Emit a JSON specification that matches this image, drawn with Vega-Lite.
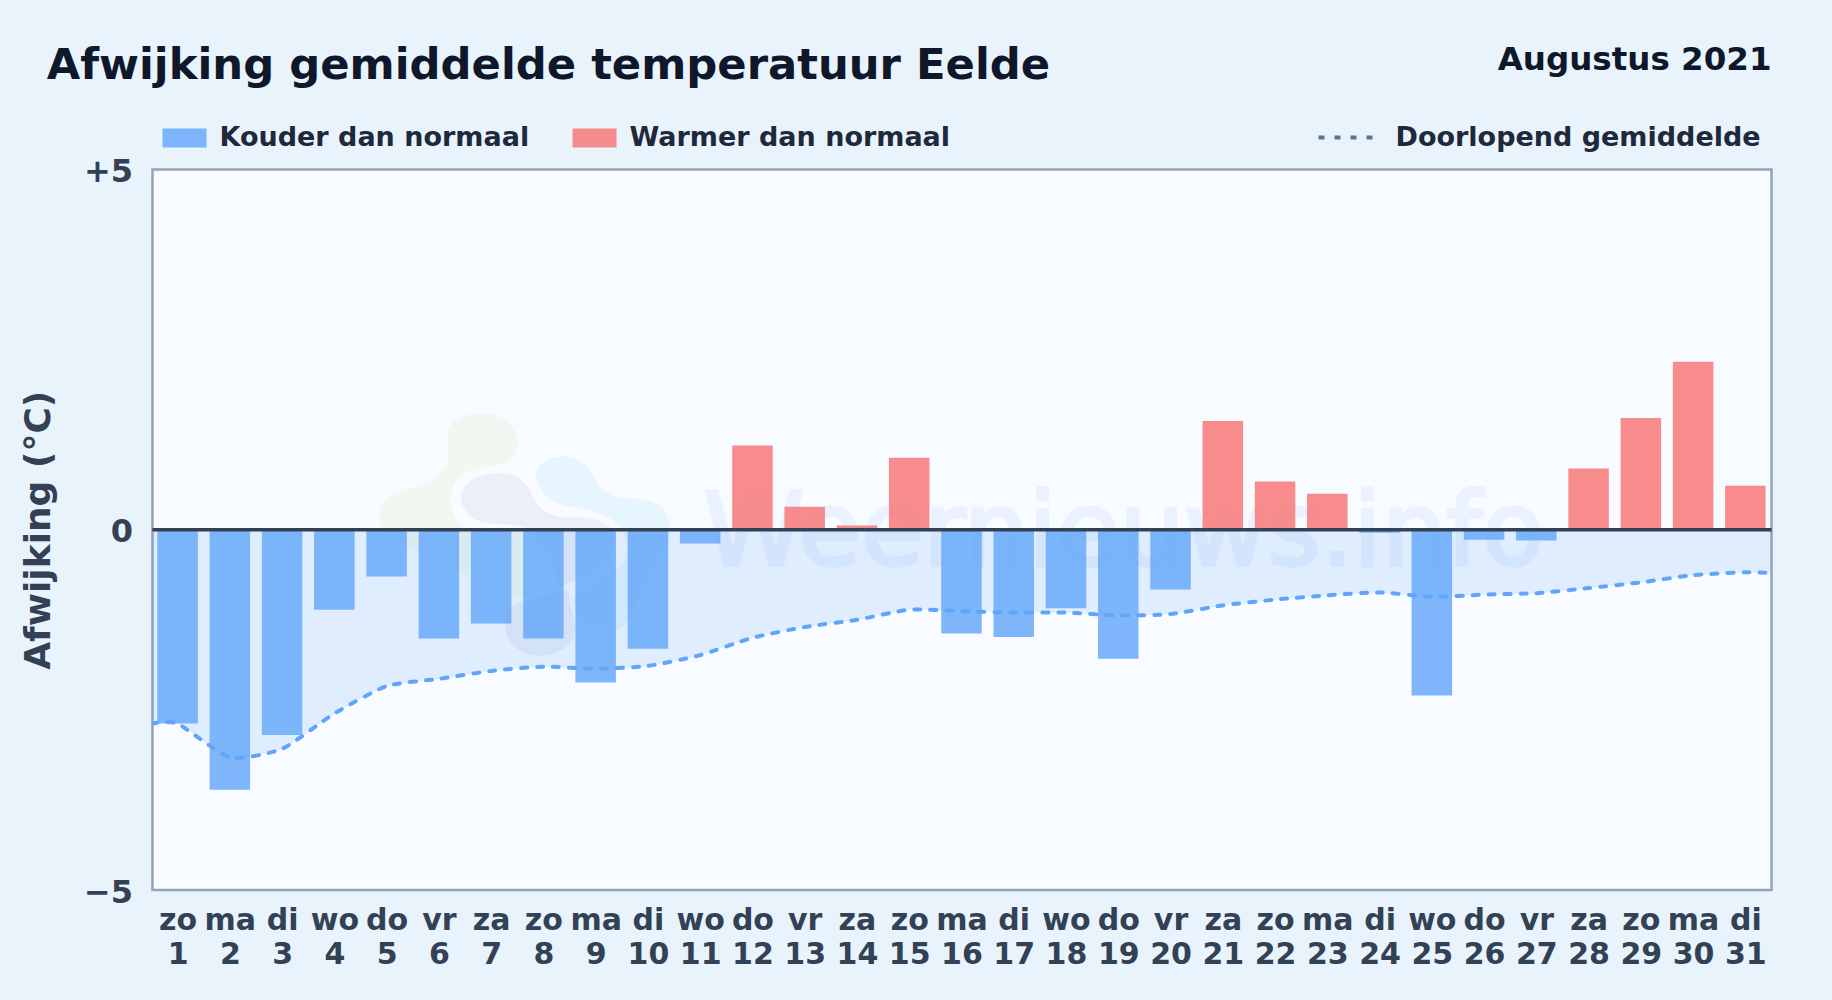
{
"$schema":"https://vega.github.io/schema/vega-lite/v6.json",
"width":1619,"height":720.5,
"autosize":"none",
"padding":{"left":152.5,"top":169.5,"right":60.5,"bottom":110},
"background":"#e8f3fc",
"config":{"view":{"fill":"#f8fbff","stroke":"#94a3b8","strokeWidth":2.5},"font":"DejaVu Sans"},
"datasets":{
"dagen":[
{"dag":1,"afwijking":-2.69,"soort":"Kouder dan normaal"},{"dag":2,"afwijking":-3.61,"soort":"Kouder dan normaal"},{"dag":3,"afwijking":-2.85,"soort":"Kouder dan normaal"},{"dag":4,"afwijking":-1.11,"soort":"Kouder dan normaal"},{"dag":5,"afwijking":-0.65,"soort":"Kouder dan normaal"},{"dag":6,"afwijking":-1.51,"soort":"Kouder dan normaal"},{"dag":7,"afwijking":-1.3,"soort":"Kouder dan normaal"},{"dag":8,"afwijking":-1.51,"soort":"Kouder dan normaal"},{"dag":9,"afwijking":-2.12,"soort":"Kouder dan normaal"},{"dag":10,"afwijking":-1.65,"soort":"Kouder dan normaal"},{"dag":11,"afwijking":-0.19,"soort":"Kouder dan normaal"},{"dag":12,"afwijking":1.17,"soort":"Warmer dan normaal"},{"dag":13,"afwijking":0.32,"soort":"Warmer dan normaal"},{"dag":14,"afwijking":0.06,"soort":"Warmer dan normaal"},{"dag":15,"afwijking":1.0,"soort":"Warmer dan normaal"},{"dag":16,"afwijking":-1.44,"soort":"Kouder dan normaal"},{"dag":17,"afwijking":-1.49,"soort":"Kouder dan normaal"},{"dag":18,"afwijking":-1.09,"soort":"Kouder dan normaal"},{"dag":19,"afwijking":-1.79,"soort":"Kouder dan normaal"},{"dag":20,"afwijking":-0.83,"soort":"Kouder dan normaal"},{"dag":21,"afwijking":1.51,"soort":"Warmer dan normaal"},{"dag":22,"afwijking":0.67,"soort":"Warmer dan normaal"},{"dag":23,"afwijking":0.5,"soort":"Warmer dan normaal"},{"dag":24,"afwijking":-0.04,"soort":"Kouder dan normaal"},{"dag":25,"afwijking":-2.3,"soort":"Kouder dan normaal"},{"dag":26,"afwijking":-0.14,"soort":"Kouder dan normaal"},{"dag":27,"afwijking":-0.15,"soort":"Kouder dan normaal"},{"dag":28,"afwijking":0.85,"soort":"Warmer dan normaal"},{"dag":29,"afwijking":1.55,"soort":"Warmer dan normaal"},{"dag":30,"afwijking":2.33,"soort":"Warmer dan normaal"},{"dag":31,"afwijking":0.61,"soort":"Warmer dan normaal"}],
"gemiddelde":[
{"dag":0.5,"gem":-2.69,"reeks":"Doorlopend gemiddelde"},{"dag":1,"gem":-2.69,"reeks":"Doorlopend gemiddelde"},{"dag":2,"gem":-3.16,"reeks":"Doorlopend gemiddelde"},{"dag":3,"gem":-3.04,"reeks":"Doorlopend gemiddelde"},{"dag":4,"gem":-2.55,"reeks":"Doorlopend gemiddelde"},{"dag":5,"gem":-2.17,"reeks":"Doorlopend gemiddelde"},{"dag":6,"gem":-2.07,"reeks":"Doorlopend gemiddelde"},{"dag":7,"gem":-1.96,"reeks":"Doorlopend gemiddelde"},{"dag":8,"gem":-1.9,"reeks":"Doorlopend gemiddelde"},{"dag":9,"gem":-1.93,"reeks":"Doorlopend gemiddelde"},{"dag":10,"gem":-1.89,"reeks":"Doorlopend gemiddelde"},{"dag":11,"gem":-1.74,"reeks":"Doorlopend gemiddelde"},{"dag":12,"gem":-1.5,"reeks":"Doorlopend gemiddelde"},{"dag":13,"gem":-1.35,"reeks":"Doorlopend gemiddelde"},{"dag":14,"gem":-1.25,"reeks":"Doorlopend gemiddelde"},{"dag":15,"gem":-1.11,"reeks":"Doorlopend gemiddelde"},{"dag":16,"gem":-1.13,"reeks":"Doorlopend gemiddelde"},{"dag":17,"gem":-1.15,"reeks":"Doorlopend gemiddelde"},{"dag":18,"gem":-1.15,"reeks":"Doorlopend gemiddelde"},{"dag":19,"gem":-1.19,"reeks":"Doorlopend gemiddelde"},{"dag":20,"gem":-1.17,"reeks":"Doorlopend gemiddelde"},{"dag":21,"gem":-1.05,"reeks":"Doorlopend gemiddelde"},{"dag":22,"gem":-0.97,"reeks":"Doorlopend gemiddelde"},{"dag":23,"gem":-0.91,"reeks":"Doorlopend gemiddelde"},{"dag":24,"gem":-0.87,"reeks":"Doorlopend gemiddelde"},{"dag":25,"gem":-0.93,"reeks":"Doorlopend gemiddelde"},{"dag":26,"gem":-0.9,"reeks":"Doorlopend gemiddelde"},{"dag":27,"gem":-0.88,"reeks":"Doorlopend gemiddelde"},{"dag":28,"gem":-0.81,"reeks":"Doorlopend gemiddelde"},{"dag":29,"gem":-0.73,"reeks":"Doorlopend gemiddelde"},{"dag":30,"gem":-0.63,"reeks":"Doorlopend gemiddelde"},{"dag":31,"gem":-0.59,"reeks":"Doorlopend gemiddelde"},{"dag":31.5,"gem":-0.6,"reeks":"Doorlopend gemiddelde"}],
"logo":[{"dag":7.64,"afwijking":-0.07}]
},
"layer":[
{"data":{"name":"gemiddelde"},
 "mark":{"type":"area","interpolate":"cardinal","tension":0.4,"color":"#60a5fa","opacity":0.16,"clip":true},
 "encoding":{"x":{"field":"dag","type":"quantitative","scale":{"domain":[0.52,31.5],"nice":false,"zero":false,"padding":0},"title":null,
   "axis":{"values":[1,2,3,4,5,6,7,8,9,10,11,12,13,14,15,16,17,18,19,20,21,22,23,24,25,26,27,28,29,30,31],"labelExpr":"[['zo','ma','di','wo','do','vr','za'][(datum.value-1)%7], ''+datum.value]","grid":false,"ticks":false,"domain":false,"labelFontSize":30,"labelFontWeight":"bold","labelColor":"#334155","labelPadding":15,"labelLineHeight":34.5,"labelOverlap":false,"labelBound":false,"labelFlush":false}},
  "y":{"field":"gem","type":"quantitative","scale":{"domain":[-5,5],"nice":false},"title":"Afwijking (°C)",
   "axis":{"values":[-5,0,5],"labelExpr":"datum.value>0?'+'+datum.value:(datum.value<0?'−'+abs(datum.value):'0')","grid":false,"ticks":false,"domain":false,"labelFontSize":32,"labelFontWeight":"bold","labelColor":"#334155","labelPadding":20,"labelOffset":2,"titleFontSize":36,"titleFontWeight":"bold","titleColor":"#334155","titlePadding":25.5}},
  "y2":{"datum":0}}},
{"data":{"name":"logo"},"mark":{"type":"point","filled":true,"fill":"#84cc16","opacity":0.06,"size":102400,"shape":"M-0.479,-0.635 C-0.479,-0.718 -0.365,-0.76 -0.26,-0.76 C-0.135,-0.76 -0.042,-0.677 -0.042,-0.573 C-0.042,-0.5 -0.094,-0.448 -0.156,-0.437 C-0.302,-0.423 -0.406,-0.396 -0.448,-0.302 C-0.49,-0.198 -0.448,-0.073 -0.323,-0.01 C-0.198,-0.021 -0.052,-0.031 0.073,-0.01 C0.198,0.073 0.198,0.26 0.073,0.365 L-0.052,0.385 C-0.24,0.365 -0.51,0.135 -0.719,0.073 C-0.844,0.031 -0.917,-0.031 -0.906,-0.135 C-0.906,-0.219 -0.844,-0.26 -0.76,-0.281 C-0.635,-0.313 -0.552,-0.333 -0.5,-0.417 C-0.469,-0.469 -0.479,-0.552 -0.479,-0.635 Z"},
 "encoding":{"x":{"field":"dag","type":"quantitative"},"y":{"field":"afwijking","type":"quantitative"}}},
{"data":{"name":"logo"},"mark":{"type":"point","filled":true,"fill":"#1e3a8a","opacity":0.06,"size":102400,"shape":"M-0.396,-0.229 C-0.396,-0.323 -0.302,-0.385 -0.156,-0.385 C-0.031,-0.385 0.021,-0.313 0.052,-0.24 C0.094,-0.146 0.177,-0.104 0.302,-0.108 C0.427,-0.119 0.531,-0.083 0.563,0.01 C0.573,0.115 0.479,0.219 0.365,0.26 C0.281,0.302 0.24,0.32 0.2,0.33 C0.22,0.22 0.135,0.031 0.01,-0.042 C-0.115,-0.083 -0.24,-0.052 -0.323,-0.104 C-0.375,-0.146 -0.396,-0.188 -0.396,-0.229 Z"},
 "encoding":{"x":{"field":"dag","type":"quantitative"},"y":{"field":"afwijking","type":"quantitative"}}},
{"data":{"name":"logo"},"mark":{"type":"point","filled":true,"fill":"#38bdf8","opacity":0.09,"size":102400,"shape":"M0.073,-0.375 C0.073,-0.448 0.156,-0.49 0.25,-0.49 C0.354,-0.49 0.417,-0.406 0.458,-0.313 C0.51,-0.24 0.615,-0.219 0.719,-0.223 C0.823,-0.223 0.906,-0.146 0.91,-0.042 C0.91,0.094 0.802,0.198 0.74,0.323 C0.677,0.448 0.656,0.594 0.552,0.598 C0.406,0.594 0.302,0.51 0.302,0.406 C0.323,0.333 0.521,0.281 0.615,0.177 C0.688,0.073 0.615,-0.073 0.49,-0.125 C0.385,-0.177 0.26,-0.156 0.167,-0.219 C0.104,-0.26 0.073,-0.313 0.073,-0.375 Z"},
 "encoding":{"x":{"field":"dag","type":"quantitative"},"y":{"field":"afwijking","type":"quantitative"}}},
{"data":{"name":"logo"},"mark":{"type":"point","filled":true,"fill":"#1e3a8a","opacity":0.06,"size":102400,"shape":"M-0.121,0.573 C-0.121,0.49 -0.073,0.427 0.01,0.406 C0.135,0.385 0.219,0.354 0.277,0.344 C0.271,0.448 0.344,0.552 0.302,0.656 C0.24,0.74 0.156,0.756 0.094,0.756 C-0.031,0.756 -0.121,0.677 -0.121,0.573 Z"},
 "encoding":{"x":{"field":"dag","type":"quantitative"},"y":{"field":"afwijking","type":"quantitative"}}},
{"data":{"values":[{"tekst":"Weernieuws.info","dag":19.11,"afwijking":-0.49}]},
 "mark":{"type":"text","font":"DejaVu Sans","fontWeight":"normal","fontSize":102,"align":"center","baseline":"alphabetic","color":"#3b82f6","stroke":"#3b82f6","strokeWidth":3.5,"opacity":0.07},
 "encoding":{"x":{"field":"dag","type":"quantitative"},"y":{"field":"afwijking","type":"quantitative"},"text":{"field":"tekst"}}},
{"data":{"name":"dagen"},
 "mark":{"type":"bar","width":40.5,"opacity":0.8},
 "encoding":{"x":{"field":"dag","type":"quantitative"},
  "y":{"field":"afwijking","type":"quantitative"},"y2":{"datum":0},
  "color":{"field":"soort","type":"nominal","scale":{"domain":["Kouder dan normaal","Warmer dan normaal"],"range":["#60a5fa","#f87171"]},
   "legend":{"orient":"none","direction":"horizontal","legendX":12,"legendY":-51.5,"title":null,"columns":2,"symbolType":"M-1.1,-0.48H1.1V0.48H-1.1Z","symbolSize":1600,"symbolOpacity":0.8,"labelFontSize":27,"labelFontWeight":"bold","labelColor":"#1e293b","labelLimit":1000,"labelOffset":15,"columnPadding":43,"symbolStrokeWidth":0}}}},
{"data":{"name":"gemiddelde"},
 "mark":{"type":"line","interpolate":"cardinal","tension":0.4,"color":"#60a5fa","strokeWidth":4,"strokeCap":"round","clip":true},
 "encoding":{"x":{"field":"dag","type":"quantitative"},"y":{"field":"gem","type":"quantitative"},
  "strokeDash":{"field":"reeks","type":"nominal","scale":{"domain":["Doorlopend gemiddelde"],"range":[[6,10]]},
   "legend":{"orient":"none","legendX":1164,"legendY":-62,"title":null,"symbolType":"stroke","symbolSize":3136,"symbolStrokeWidth":4,"labelFontSize":27,"labelFontWeight":"bold","labelColor":"#1e293b","labelLimit":1000,"labelOffset":19,"encoding":{"symbols":{"stroke":{"value":"#64748b"},"strokeDash":{"value":[4,11]},"strokeCap":{"value":"butt"}}}}}}},
{"data":{"values":[{"nul":0}]},"mark":{"type":"rule","color":"#334155","strokeWidth":3.5},
 "encoding":{"y":{"field":"nul","type":"quantitative"}}},
{"data":{"values":[{"tekst":"Afwijking gemiddelde temperatuur Eelde","dag":-1.505,"afwijking":6.25}]},
 "mark":{"type":"text","font":"DejaVu Sans","fontWeight":"bold","fontSize":43.3,"align":"left","baseline":"alphabetic","color":"#0f172a"},
 "encoding":{"x":{"field":"dag","type":"quantitative"},"y":{"field":"afwijking","type":"quantitative"},"text":{"field":"tekst"}}},
{"data":{"values":[{"tekst":"Augustus 2021","dag":31.5,"afwijking":6.375}]},
 "mark":{"type":"text","font":"DejaVu Sans","fontWeight":"bold","fontSize":32.5,"align":"right","baseline":"alphabetic","color":"#0f172a"},
 "encoding":{"x":{"field":"dag","type":"quantitative"},"y":{"field":"afwijking","type":"quantitative"},"text":{"field":"tekst"}}}
]
}
